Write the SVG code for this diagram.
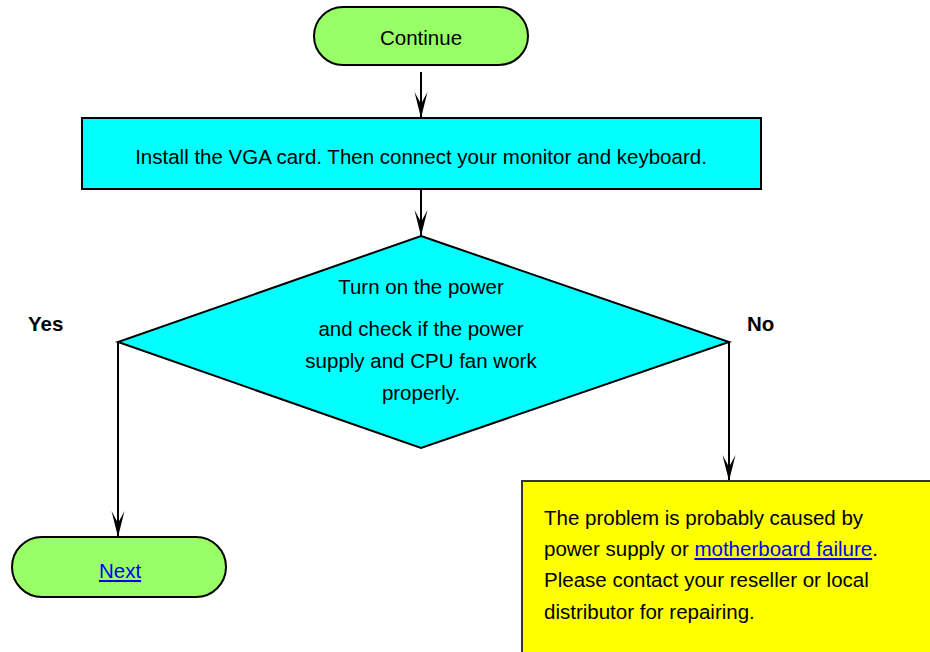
<svg xmlns="http://www.w3.org/2000/svg" width="930" height="652" viewBox="0 0 930 652">
<style>
  text { font-family: "Liberation Sans", Arial, sans-serif; fill: #000; font-size: 20.5px; }
  .c { text-anchor: middle; }
  .b { font-weight: bold; }
  .link { fill: #0000ee; text-decoration: underline; }
  .term { fill: #99ff66; stroke: #000; stroke-width: 2; }
  .proc { fill: #00ffff; stroke: #000; stroke-width: 2; }
  .note { fill: #ffff00; stroke: #333; stroke-width: 2; }
  .edge { fill: none; stroke: #000; stroke-width: 2; }
</style>
<defs>
  <marker id="arr" markerUnits="userSpaceOnUse" markerWidth="28" markerHeight="16" refX="26" refY="8" orient="auto" viewBox="0 0 28 16">
    <path d="M26,8 L0,1.5 L12,8 L0,14.5 Z" fill="#000"/>
  </marker>
</defs>
<g id="connectors">
  <line class="edge" x1="421" y1="72" x2="421" y2="118" marker-end="url(#arr)"/>
  <line class="edge" x1="421" y1="190" x2="421" y2="236" marker-end="url(#arr)"/>
  <polyline class="edge" points="118,342 118,537" marker-end="url(#arr)"/>
  <polyline class="edge" points="729,342 729,481" marker-end="url(#arr)"/>
</g>
<g id="continue">
  <rect class="term" x="314" y="7" width="214" height="58" rx="29" ry="29"/>
  <text class="c" x="421" y="45">Continue</text>
</g>
<g id="install">
  <rect class="proc" x="82" y="118" width="679" height="71"/>
  <text class="c" x="421" y="164">Install the VGA card. Then connect your monitor and keyboard.</text>
</g>
<g id="check">
  <polygon class="proc" points="421,236 729,342 421,448 118,342"/>
  <text class="c" x="421" y="294">Turn on the power</text>
  <text class="c" x="421" y="336">and check if the power</text>
  <text class="c" x="421" y="368">supply and CPU fan work</text>
  <text class="c" x="421" y="400">properly.</text>
</g>
<g id="yes-label">
  <text class="b" x="28" y="331">Yes</text>
</g>
<g id="no-label">
  <text class="b" x="747" y="331">No</text>
</g>
<g id="next">
  <rect class="term" x="12" y="537" width="214" height="60" rx="30" ry="30"/>
  <text class="c link" x="120" y="578">Next</text>
</g>
<g id="problem">
  <rect class="note" x="522" y="481" width="420" height="190"/>
  <text x="544" y="525">The problem is probably caused by</text>
  <text x="544" y="556">power supply or <tspan class="link">motherboard failure</tspan>.</text>
  <text x="544" y="587">Please contact your reseller or local</text>
  <text x="544" y="619">distributor for repairing.</text>
</g>
</svg>
